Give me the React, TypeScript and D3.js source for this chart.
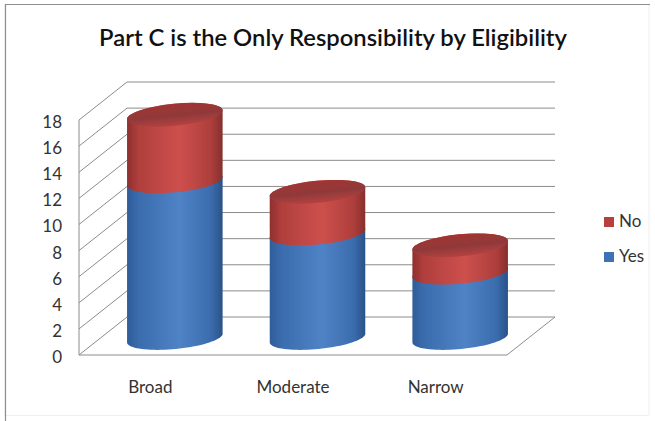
import React from 'react';
import * as d3 from 'd3';

const categories = ['Broad', 'Moderate', 'Narrow'];
const yesValues = [12, 8, 5];
const noValues = [5.1, 3.2, 2.1];
const yTicks = [0, 2, 4, 6, 8, 10, 12, 14, 16, 18];
const legendItems = ['No', 'Yes'];
const chartTitle = 'Part C is the Only Responsibility by Eligibility';

const width = 655;
const height = 421;
const font = 'Lato, "Open Sans", sans-serif';
const gridColor = '#8c8c8c';

// front plane of the fake 3D box, the back wall is this shifted by depth
const depthX = 48;
const depthY = -38;
const xScale = d3.scaleBand<string>().domain(categories).range([79, 507]);
const yScale = d3.scaleLinear().domain([0, 18]).range([355, 120]);

// cylinders stand roughly mid depth on the floor
const cylX = 24.5;
const cylY = -17;
const rx = 48;
const ry = 11;
const tilt = -5.5;
const tiltRad = (tilt * Math.PI) / 180;

const ellipsePoint = (cx: number, cy: number, a: number): [number, number] => [
  cx + rx * Math.cos(a) * Math.cos(tiltRad) - ry * Math.sin(a) * Math.sin(tiltRad),
  cy + rx * Math.cos(a) * Math.sin(tiltRad) + ry * Math.sin(a) * Math.cos(tiltRad),
];

const steps = d3.range(0, 41).map(i => (i / 40) * Math.PI);
const line = d3.line();

// side wall between two levels: back half of the top rim, front half of the bottom rim
const bodyPath = (cx: number, yTop: number, yBottom: number) => {
  const upper = steps.map(a => ellipsePoint(cx, yTop, Math.PI + a));
  const lower = steps.map(a => ellipsePoint(cx, yBottom, a));
  return line([...upper, ...lower]) + 'Z';
};

const App = () => {
  const barCenter = (c: string) => (xScale(c) as number) + xScale.bandwidth() / 2;

  return (
    <svg
      width={width}
      height={height}
      style={{ position: 'fixed', left: 0, top: 0, background: '#fff' }}
    >
      <defs>
        <linearGradient id="blueBody" x1="0" x2="1" y1="0" y2="0">
          <stop offset="0" stopColor="#2f5d99" />
          <stop offset="0.12" stopColor="#3a6cad" />
          <stop offset="0.55" stopColor="#4f83c6" />
          <stop offset="0.88" stopColor="#3a6cad" />
          <stop offset="1" stopColor="#2a5288" />
        </linearGradient>
        <linearGradient id="redBody" x1="0" x2="1" y1="0" y2="0">
          <stop offset="0" stopColor="#8e302e" />
          <stop offset="0.12" stopColor="#b03f3c" />
          <stop offset="0.55" stopColor="#cd504d" />
          <stop offset="0.88" stopColor="#ad3e3b" />
          <stop offset="1" stopColor="#85302d" />
        </linearGradient>
        <linearGradient id="redTop" x1="0" x2="0" y1="0" y2="1">
          <stop offset="0" stopColor="#a13533" />
          <stop offset="0.55" stopColor="#90393a" />
          <stop offset="1" stopColor="#b5423f" />
        </linearGradient>
        <filter id="soft" x="-5%" y="-5%" width="110%" height="110%">
          <feGaussianBlur stdDeviation="0.7" />
        </filter>
      </defs>

      {/* outer frame */}
      <rect x={5} y={4.5} width={644} height={411} fill="none" stroke="#efefef" />
      <path d="M5.5,421V4.5H650" fill="none" stroke="#8f8f8f" strokeWidth={1.2} />

      <text
        x={333}
        y={46}
        textAnchor="middle"
        fontFamily={font}
        fontSize={23.8}
        fontWeight={600}
        fill="#111"
      >
        {chartTitle}
      </text>

      {/* back wall and side wall lines */}
      <g stroke={gridColor} strokeWidth={1} fill="none">
        {yTicks.map(t => (
          <g key={t}>
            <line
              x1={79}
              y1={yScale(t)}
              x2={79 + depthX}
              y2={yScale(t) + depthY}
            />
            <line
              x1={79 + depthX}
              y1={yScale(t) + depthY}
              x2={507 + depthX}
              y2={yScale(t) + depthY}
            />
          </g>
        ))}
        <line x1={79} y1={yScale(0)} x2={79} y2={yScale(18)} />
        <line x1={79} y1={yScale(0)} x2={507} y2={yScale(0)} />
        <line x1={507} y1={yScale(0)} x2={507 + depthX} y2={yScale(0) + depthY} />
      </g>

      {yTicks.map(t => (
        <text
          key={t}
          x={62}
          y={yScale(t) + 8}
          textAnchor="end"
          fontFamily={font}
          fontSize={17}
          fill="#333"
        >
          {t}
        </text>
      ))}

      {/* stacked cylinders */}
      <g filter="url(#soft)">
        {categories.map((c, i) => {
          const cx = barCenter(c) + cylX;
          const y0 = yScale(0) + cylY;
          const y1 = yScale(yesValues[i]) + cylY;
          const y2 = yScale(yesValues[i] + noValues[i]) + cylY;
          return (
            <g key={c}>
              <path d={bodyPath(cx, y1, y0)} fill="url(#blueBody)" />
              <path d={bodyPath(cx, y2, y1)} fill="url(#redBody)" />
              <ellipse
                cx={cx}
                cy={y2}
                rx={rx}
                ry={ry}
                transform={`rotate(${tilt} ${cx} ${y2})`}
                fill="url(#redTop)"
              />
            </g>
          );
        })}
      </g>

      {categories.map(c => (
        <text
          key={c}
          x={barCenter(c)}
          y={393}
          textAnchor="middle"
          fontFamily={font}
          fontSize={17}
          fill="#333"
        >
          {c}
        </text>
      ))}

      {legendItems.map((d, i) => (
        <g key={d} transform={`translate(604,${217 + i * 35})`}>
          <rect width={10} height={10} fill={d === 'No' ? '#b5403d' : '#3f72b5'} />
          <text x={15} y={10} fontFamily={font} fontSize={17} fill="#333">
            {d}
          </text>
        </g>
      ))}
    </svg>
  );
};

export default App;
